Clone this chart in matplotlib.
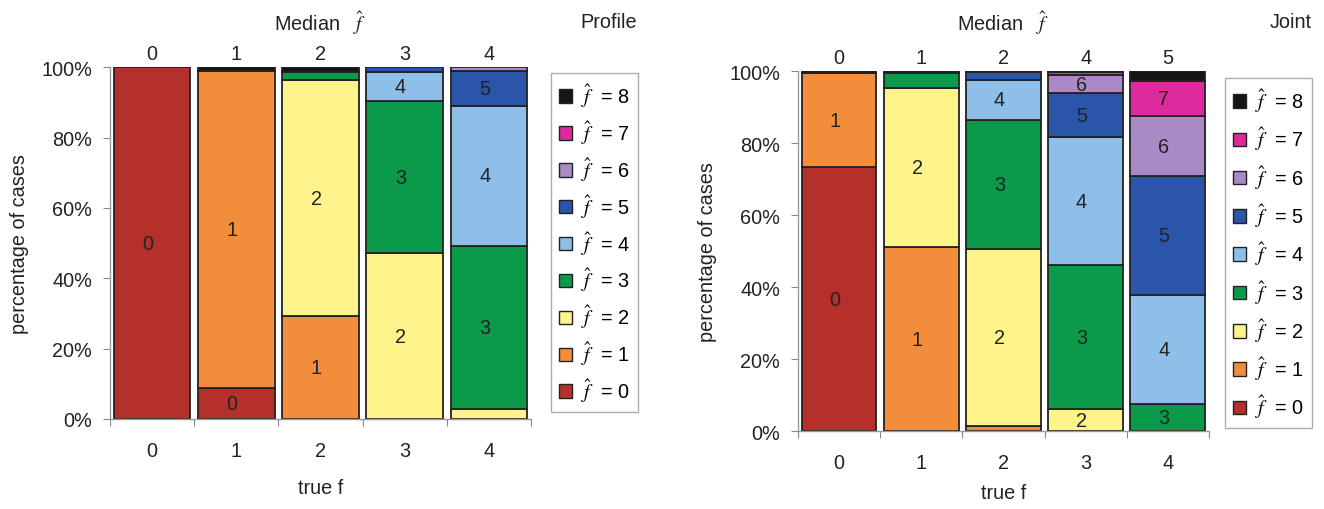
import numpy as np
import matplotlib
matplotlib.use("Agg")
import matplotlib.pyplot as plt
from matplotlib.patches import Patch

plt.rcParams['font.family'] = ['Liberation Sans', 'DejaVu Sans']
plt.rcParams['mathtext.fontset'] = 'stix'

true_f = ['0', '1', '2', '3', '4']
profile_median = ['0', '1', '2', '3', '4']
joint_median = ['0', '1', '2', '4', '5']
levels = [0, 1, 2, 3, 4, 5, 6, 7, 8]

# percentage of cases for each f-hat level (rows) per true f (columns)
profile_f0 = [100.0, 8.7, 0, 0, 0]
profile_f1 = [0, 90.2, 29.2, 0, 0]
profile_f2 = [0, 0, 67.1, 47.1, 2.9]
profile_f3 = [0, 0, 2.5, 43.3, 46.3]
profile_f4 = [0, 0, 0, 8.4, 39.8]
profile_f5 = [0, 0, 0, 1.2, 9.9]
profile_f6 = [0, 0, 0, 0, 1.1]
profile_f7 = [0, 0, 0, 0, 0]
profile_f8 = [0, 1.1, 1.2, 0, 0]

joint_f0 = [73.2, 0, 0, 0, 0]
joint_f1 = [26.3, 51.0, 1.3, 0, 0]
joint_f2 = [0, 44.2, 49.3, 6.1, 0]
joint_f3 = [0, 4.3, 35.8, 40.0, 7.5]
joint_f4 = [0, 0, 11.2, 35.5, 30.3]
joint_f5 = [0, 0, 2.0, 12.2, 33.1]
joint_f6 = [0, 0, 0, 5.1, 16.5]
joint_f7 = [0, 0, 0, 0.7, 9.8]
joint_f8 = [0.5, 0.5, 0.4, 0.4, 2.8]

profile = [profile_f0, profile_f1, profile_f2, profile_f3, profile_f4,
           profile_f5, profile_f6, profile_f7, profile_f8]
joint = [joint_f0, joint_f1, joint_f2, joint_f3, joint_f4,
         joint_f5, joint_f6, joint_f7, joint_f8]

colors = ['#B5302A', '#F28D3C', '#FFF48C', '#0B9A4A', '#8EBFE8',
          '#2A55A8', '#A98AC6', '#DE2A9C', '#151515']
edge = '#222222'
FS = 14.3

fig = plt.figure(figsize=(13.24, 5.10), dpi=100)


def draw(ax, data, median_labels, name, name_x, legend_anchor, lspace,
         xlpad):
    x = np.arange(len(true_f))
    bottom = np.zeros(len(true_f))
    for lvl, vals in zip(levels, data):
        vals = np.array(vals, dtype=float)
        mask = vals > 0
        ax.bar(x[mask], vals[mask], bottom=bottom[mask], width=0.91,
               color=colors[lvl], edgecolor=edge, linewidth=1.3, zorder=2)
        for xi, v, b in zip(x, vals, bottom):
            if v >= 5:
                ax.text(xi - 0.05, b + v / 2, str(lvl), ha='center', va='center',
                        fontsize=FS, color='#222222', zorder=3)
        bottom += vals
    ax.set_xlim(-0.5, len(true_f) - 0.5)
    ax.set_ylim(0, 100)
    ax.set_yticks([0, 20, 40, 60, 80, 100])
    ax.set_yticklabels(['0%', '20%', '40%', '60%', '80%', '100%'], fontsize=FS)
    ax.tick_params(axis='y', direction='out', length=5, color='#888888',
                   pad=8, labelcolor='#222222')
    bounds = np.arange(len(true_f) + 1) - 0.5
    ax.set_xticks(bounds, labels=[''] * len(bounds))
    ax.set_xticks(x, labels=true_f, minor=True, fontsize=FS)
    ax.tick_params(axis='x', which='major', direction='out', length=5,
                   color='#888888')
    ax.tick_params(axis='x', which='minor', length=0, pad=16,
                   labelcolor='#222222')
    for s in ['top', 'right']:
        ax.spines[s].set_visible(False)
    for s in ['left', 'bottom']:
        ax.spines[s].set_color('#999999')
        ax.spines[s].set_linewidth(1.0)
    ax.set_xlabel('true f', fontsize=FS, labelpad=xlpad, color='#222222')
    ax.set_ylabel('percentage of cases', fontsize=FS, labelpad=9,
                  color='#222222')

    top = ax.secondary_xaxis('top')
    top.set_xticks(x, labels=median_labels, fontsize=FS)
    top.tick_params(length=0, pad=3, labelcolor='#222222')
    top.spines['top'].set_visible(False)

    pos = ax.get_position()
    fig.text((pos.x0 + pos.x1) / 2, 0.955, r'Median   $\hat{f}$',
             fontsize=FS, ha='center', va='center', color='#222222')
    fig.text(name_x, 0.955, name, fontsize=FS, ha='center', va='center',
             color='#222222')

    handles = [Patch(facecolor=colors[l], edgecolor=edge, linewidth=1.0)
               for l in levels[::-1]]
    labels = [r'$\hat{f}$  = %d' % l for l in levels[::-1]]
    leg = fig.legend(handles, labels, loc='upper left',
                     bbox_to_anchor=legend_anchor, fontsize=FS,
                     frameon=True, fancybox=False, handlelength=0.68,
                     handleheight=0.68, handletextpad=0.45,
                     labelspacing=lspace, borderpad=0.4, borderaxespad=0)
    leg.get_frame().set_edgecolor('#999999')
    leg.get_frame().set_linewidth(1.0)


ax1 = fig.add_axes([0.0831, 0.1765, 0.318, 0.6896])
draw(ax1, profile, profile_median, 'Profile', 0.46, (0.416, 0.855), 0.45, 13)

ax2 = fig.add_axes([0.6027, 0.1529, 0.3104, 0.7059])
draw(ax2, joint, joint_median, 'Joint', 0.975, (0.925, 0.845), 0.52, 8)

fig.savefig('out.png', dpi=100)
